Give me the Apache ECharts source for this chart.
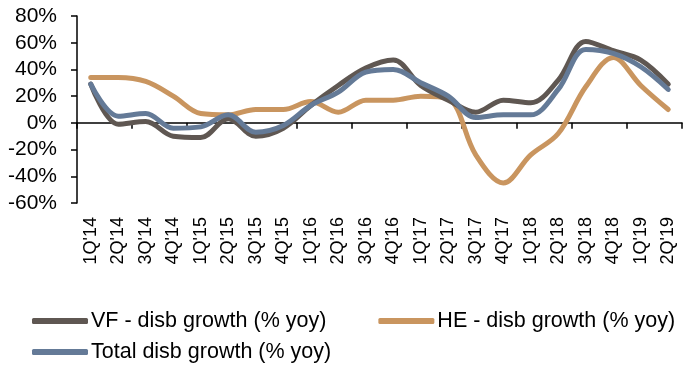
<!DOCTYPE html>
<html>
<head>
<meta charset="utf-8">
<script src="https://cdn.jsdelivr.net/npm/echarts@6/dist/echarts.min.js"></script>
<style>
  html, body { margin: 0; padding: 0; background: #fff; }
  #chart { width: 683px; height: 365px; }
</style>
</head>
<body>
<div id="chart"></div>
<script>
// Quarterly disbursement growth, % year on year
const quarters = ["1Q'14","2Q'14","3Q'14","4Q'14","1Q'15","2Q'15","3Q'15","4Q'15",
  "1Q'16","2Q'16","3Q'16","4Q'16","1Q'17","2Q'17","3Q'17","4Q'17",
  "1Q'18","2Q'18","3Q'18","4Q'18","1Q'19","2Q'19"];
const vfGrowth = [29, -1, 1, -10, -11, 3, -10, -4, 13, 28, 41, 47, 28, 17, 8, 17, 15, 32, 61, 54, 47, 29];
const heGrowth = [34, 34, 31, 20, 7, 6, 10, 10, 16, 8, 17, 17, 20, 18, -24, -45, -24, -8, 27, 49, 28, 10];
const totalGrowth = [29, 5, 7, -4, -3, 6, -7, -2, 13, 23, 38, 40, 30, 20, 4, 6, 6, 25, 55, 52, 42, 25];
const yTicks = { min: -60, max: 80, step: 20 };

const FONT = 'Liberation Sans, Arial, sans-serif';
const baseText = { color: '#000', fontFamily: FONT };

const chart = echarts.init(document.getElementById('chart'), null, { renderer: 'canvas' });

function lineSeries(name, data, color, z) {
  return {
    name, type: 'line', data, smooth: 0.35, symbol: 'none', z,
    xAxisIndex: 0, yAxisIndex: 0,
    lineStyle: { color, width: 5, cap: 'round', join: 'round' },
    itemStyle: { color }
  };
}

const legendText = Object.assign({ fontSize: 21.5 }, baseText);

chart.setOption({
  animation: false,
  backgroundColor: '#fff',
  grid: { left: 77, right: 1, top: 16, height: 187, containLabel: false },
  xAxis: [
    {
      // visible axis line and ticks sit on the zero line
      type: 'category', data: quarters, boundaryGap: true,
      axisLine: { onZero: true, lineStyle: { color: '#000', width: 1.5 } },
      axisTick: { show: true, inside: false, length: 6, lineStyle: { color: '#000', width: 1.5 } },
      axisLabel: { show: false },
      splitLine: { show: false }
    },
    {
      // quarter labels hang below the plot area
      type: 'category', data: quarters, boundaryGap: true, position: 'bottom',
      axisLine: { show: false, onZero: false },
      axisTick: { show: false },
      axisLabel: Object.assign({ rotate: 90, margin: 14, interval: 0, fontSize: 18 }, baseText),
      splitLine: { show: false }
    }
  ],
  yAxis: {
    type: 'value', min: yTicks.min, max: yTicks.max, interval: yTicks.step,
    axisLine: { show: true, lineStyle: { color: '#000', width: 1.5 } },
    axisTick: { show: true, length: 6, lineStyle: { color: '#000', width: 1.5 } },
    axisLabel: Object.assign({ formatter: v => v + '%', margin: 20, fontSize: 21 }, baseText),
    splitLine: { show: false }
  },
  legend: [
    {
      data: ['VF - disb growth (% yoy)', 'HE - disb growth (% yoy)'],
      left: 27, top: 305, itemWidth: 56, itemHeight: 6, itemGap: 52,
      icon: 'roundRect', textStyle: Object.assign({ padding: [0, 0, 0, -2] }, legendText)
    },
    {
      data: ['Total disb growth (% yoy)'],
      left: 27, top: 336, itemWidth: 56, itemHeight: 6,
      icon: 'roundRect', textStyle: Object.assign({ padding: [0, 0, 0, -2] }, legendText)
    }
  ],
  series: [
    lineSeries('VF - disb growth (% yoy)', vfGrowth, '#5f5752', 3),
    lineSeries('HE - disb growth (% yoy)', heGrowth, '#c9955f', 2),
    lineSeries('Total disb growth (% yoy)', totalGrowth, '#647a97', 4)
  ]
});
</script>
</body>
</html>
